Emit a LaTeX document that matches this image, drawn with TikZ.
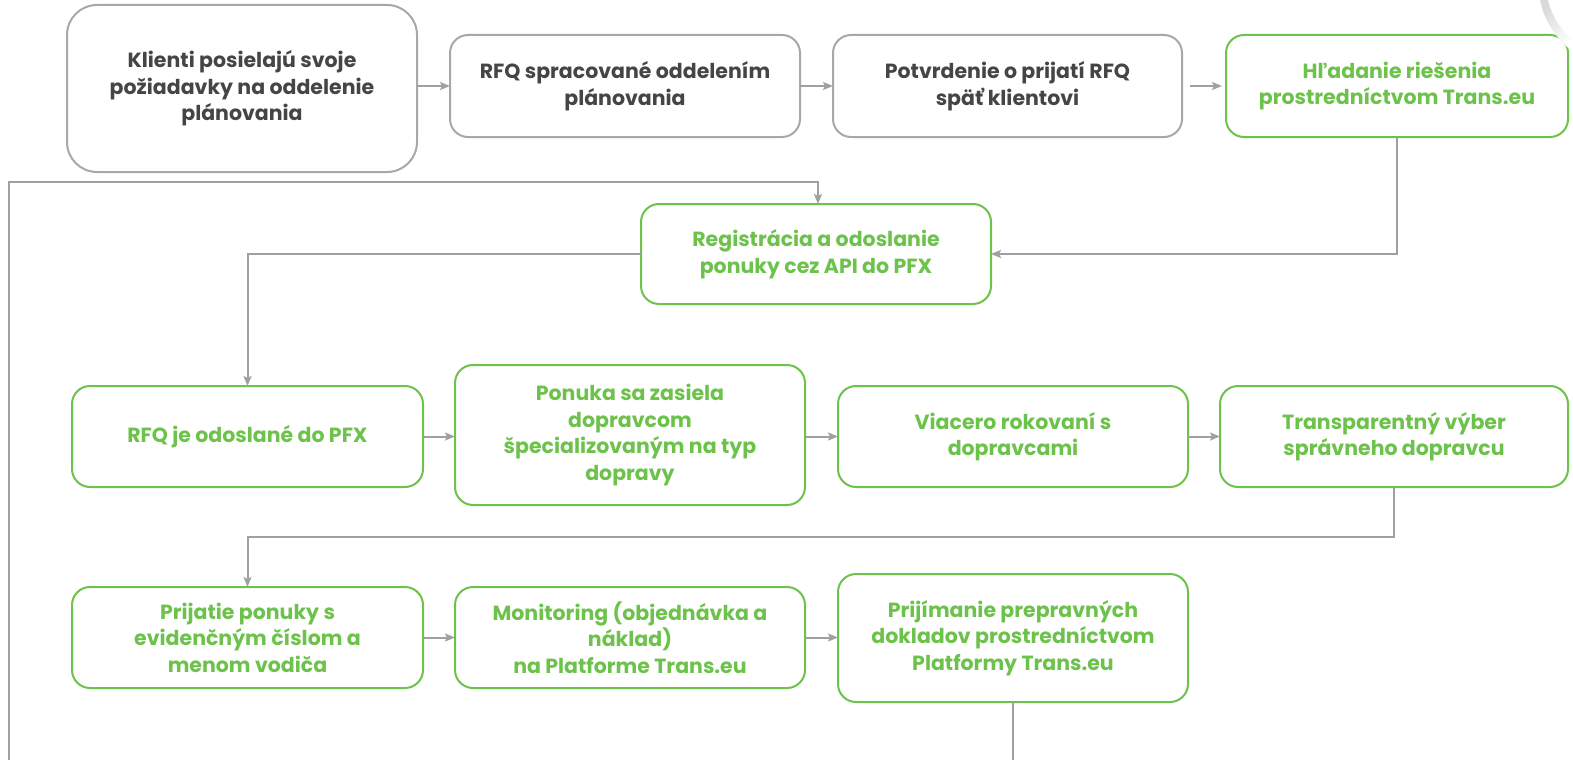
\documentclass[tikz,border=0pt]{standalone}
\usepackage{fontspec}
\setmainfont{Poppins}
\usetikzlibrary{arrows.meta,calc}
\definecolor{tgreen}{HTML}{6CC24A}
\definecolor{tgrey}{HTML}{454545}
\definecolor{bgrey}{HTML}{A8A8A8}
\definecolor{lgrey}{HTML}{A0A0A0}
\tikzset{
  box/.style={draw, line width=2pt, rounded corners=18pt, anchor=north west, inner sep=0pt, outer sep=0pt, align=center,
    font=\fontsize{20.5}{26.5}\selectfont\bfseries},
  greybox/.style={box, draw=bgrey, text=tgrey},
  greenbox/.style={box, draw=tgreen, text=tgreen},
  arr/.style={draw=lgrey, line width=2pt, -{Stealth[length=10pt,width=8pt,inset=2pt]}},
  conn/.style={draw=lgrey, line width=2pt},
}
\begin{document}
\begin{tikzpicture}[x=1pt,y=-1pt]
\useasboundingbox (0,0) rectangle (1573,760);
\node[greybox, rounded corners=30pt, minimum width=350pt, minimum height=167pt] (k) at (67,5) {Klienti posielajú svoje\\požiadavky na oddelenie\\plánovania};
\node[greybox, minimum width=350pt, minimum height=102pt] (r1) at (450,35) {RFQ spracované oddelením\\plánovania};
\node[greybox, minimum width=349pt, minimum height=102pt] (p) at (833,35) {Potvrdenie o prijatí RFQ\\späť klientovi};
\node[greenbox, minimum width=342pt, minimum height=102pt] (h) at (1226,35) {Hľadanie riešenia\\prostredníctvom Trans.eu};
\node[greenbox, minimum width=350pt, minimum height=100pt] (reg) at (641,204) {Registrácia a odoslanie\\ponuky cez API do PFX};
\node[greenbox, minimum width=351pt, minimum height=101pt] (rfq) at (72,386) {RFQ je odoslané do PFX};
\node[greenbox, minimum width=350pt, minimum height=140pt] (pon) at (455,365) {Ponuka sa zasiela\\dopravcom\\špecializovaným na typ\\dopravy};
\node[greenbox, minimum width=350pt, minimum height=101pt] (via) at (838,386) {Viacero rokovaní s\\dopravcami};
\node[greenbox, minimum width=348pt, minimum height=101pt] (tra) at (1220,386) {Transparentný výber\\správneho dopravcu};
\node[greenbox, minimum width=351pt, minimum height=101pt] (pri) at (72,587) {Prijatie ponuky s\\evidenčným číslom a\\menom vodiča};
\node[greenbox, minimum width=350pt, minimum height=101pt] (mon) at (455,587) {Monitoring (objednávka a\\náklad)\\na Platforme Trans.eu};
\node[greenbox, minimum width=350pt, minimum height=128pt] (prij) at (838,574) {Prijímanie prepravných\\dokladov prostredníctvom\\Platformy Trans.eu};
\coordinate (lb) at (9,760);
\coordinate (bb) at (1015,760);
% connectors
\draw[arr] (k.east |- r1.west) -- (r1.west);
\draw[arr] (r1.east) -- (p.west);
\draw[arr, shorten <=8pt, shorten >=4pt] (p.east) -- (h.west |- p.east);
\draw[arr] (h.south) |- (reg.east);
\draw[arr] (reg.west) -| (rfq.north);
\draw[arr] (rfq.east) -- (pon.west |- rfq.east);
\draw[arr] (pon.east |- via.west) -- (via.west);
\draw[arr] (via.east) -- (tra.west);
\draw[arr] (tra.south) -- ++(0,50) -| (pri.north);
\draw[arr] (pri.east) -- (mon.west);
\draw[arr] (mon.east) -- (prij.west |- mon.east);
\draw[conn] (prij.south) -- (prij.south |- bb);
\draw[arr] (lb) -- ++(0,-578) -| ($(reg.north)+(2,0)$);
% page curl
\shade[left color=black!15, right color=white, shading angle=45]
  (1540,0) .. controls (1545,24) and (1558,40) .. (1573,52) -- (1573,0) -- cycle;
\fill[white] (1548,0) .. controls (1553,19) and (1562,31) .. (1573,40) -- (1573,0) -- cycle;
\end{tikzpicture}
\end{document}
